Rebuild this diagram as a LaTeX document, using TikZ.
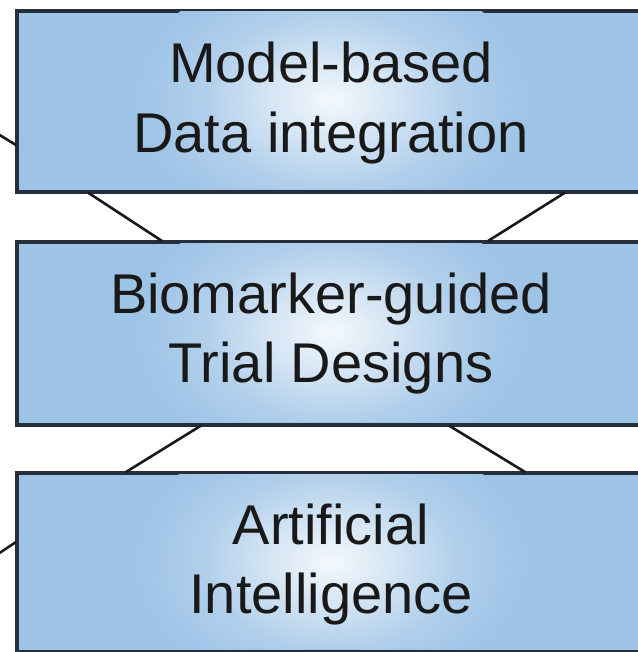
\documentclass[tikz,border=0pt]{standalone}
\usepackage{fontspec}
\newfontfamily\boxfont{Liberation Sans}
\usetikzlibrary{calc}
\definecolor{boxblue}{RGB}{157,195,230}
\definecolor{boxline}{RGB}{38,46,60}
\pgfdeclareradialshading{glow}{\pgfpoint{0bp}{0bp}}{%
  color(0bp)=(white!88!boxblue);
  color(7bp)=(white!60!boxblue);
  color(16bp)=(white!20!boxblue);
  color(25bp)=(boxblue);
  color(50bp)=(boxblue)}
\tikzset{
  boxrect/.style={draw=boxline, line width=2.6bp, fill=boxblue, rectangle, inner sep=0pt, anchor=north west},
  boxtext/.style={font=\boxfont\fontsize{56bp}{69bp}\selectfont, align=center, anchor=base, inner sep=0pt, text=black!90},
  link/.style={draw=black!90, line width=2.6bp},
  edge/.style={draw=boxline, line width=2.6bp}
}
\begin{document}
\begin{tikzpicture}[x=1bp,y=-1bp]
\useasboundingbox (0,0) rectangle (638,652);
\clip (0,0) rectangle (638,652);
\fill[white] (0,0) rectangle (638,652);
% boxes
\node[boxrect, minimum width=660bp, minimum height=180bp] (b1) at (16,10) {};
\node[boxrect, minimum width=660bp, minimum height=182bp] (b2) at (16,241) {};
\node[boxrect, minimum width=660bp, minimum height=178bp] (b3) at (16,472) {};
% glows
\begin{scope}
\clip (18,12) rectangle (660,188);
\shade[shading=glow] (331,100) ellipse [x radius=200, y radius=135];
\end{scope}
\begin{scope}
\clip (18,243) rectangle (660,421);
\shade[shading=glow] (331,332) ellipse [x radius=200, y radius=135];
\end{scope}
\begin{scope}
\clip (18,474) rectangle (660,648);
\shade[shading=glow] (331,562) ellipse [x radius=200, y radius=135];
\end{scope}
% redraw borders
\draw[edge] (b1.north east) rectangle (b1.south west);
\draw[edge] (b2.north east) rectangle (b2.south west);
\draw[edge] (b3.north east) rectangle (b3.south west);
% texts
\node[boxtext] (t1) at (331,152) {Model-based\\Data integration};
\node[boxtext] (t2) at (331,382) {Biomarker-guided\\Trial Designs};
\node[boxtext] (t3) at (331,613) {Artificial\\Intelligence};
% connectors
\draw[link] ($(b1.south west)+(72,0)$) -- ($(b2.north west)+(146,0)$);
\draw[link] ($(b1.south west)+(549,0)$) -- ($(b2.north west)+(472,0)$);
\draw[link] ($(b2.south west)+(185,0)$) -- ($(b3.north west)+(110,0)$);
\draw[link] ($(b2.south west)+(433,0)$) -- ($(b3.north west)+(509,0)$);
\coordinate (s1) at (-2,134);
\coordinate (s2) at (-2,554);
\draw[link] (s1) -- ($(b1.north west)+(0,135)$);
\draw[link] (s2) -- ($(b3.north west)+(0,70)$);
\end{tikzpicture}
\end{document}
